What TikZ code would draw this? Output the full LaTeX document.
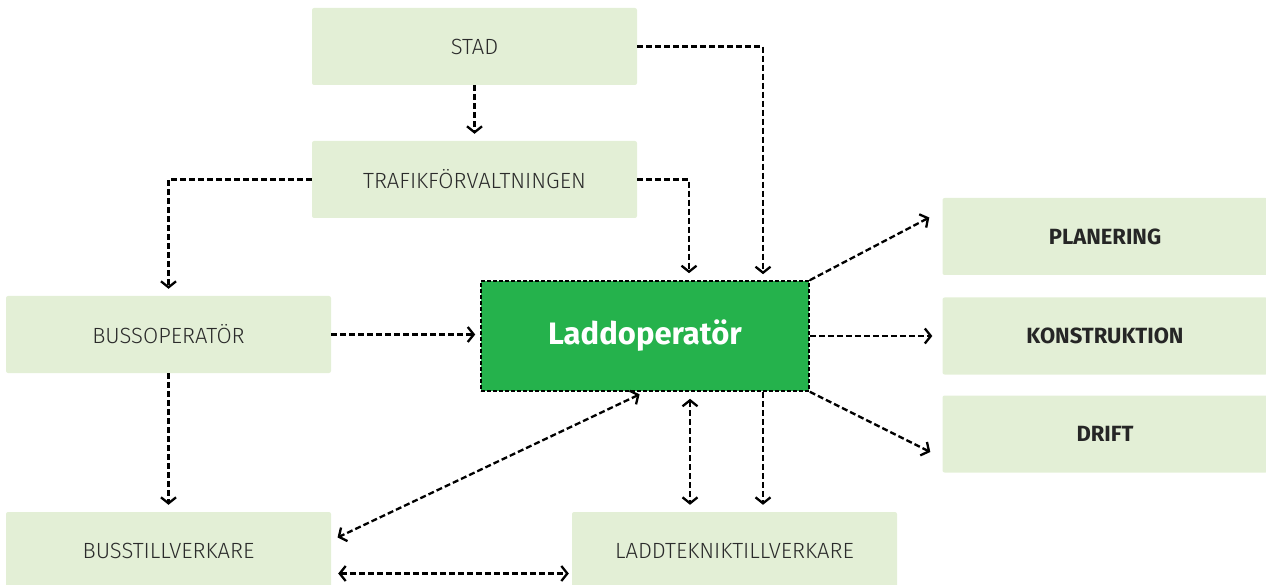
\documentclass[tikz,border=0pt]{standalone}
\usepackage{fontspec}
\setmainfont{Fira Sans}
\newfontfamily\lightfont{Fira Sans Light}
\usetikzlibrary{arrows.meta}
\definecolor{boxgreen}{HTML}{E3EFD6}
\definecolor{laddgreen}{HTML}{25B24C}
\definecolor{textgray}{HTML}{2B2B2B}
\tikzset{
  box/.style={fill=boxgreen, rounded corners=2pt, minimum width=325pt, minimum height=77pt,
    text=textgray, font=\lightfont\fontsize{22}{26}\selectfont},
  boldbox/.style={box, text=black!85, font=\fontsize{22}{26}\selectfont\bfseries},
  flow/.style={line width=2.3pt, dash pattern=on 6pt off 3pt, -{Straight Barb[length=6pt,width=15pt]}},
  twoway/.style={flow, {Straight Barb[length=6pt,width=15pt]}-{Straight Barb[length=6pt,width=15pt]}}
}
\begin{document}
\begin{tikzpicture}[x=1pt,y=1pt]
      \useasboundingbox (0,0) rectangle (1266,-585);
      % boxes
      \node[box] (stad) at (474.5,-46.5) {STAD};
      \node[box] (trafik) at (474.5,-179.5) {TRAFIKFÖRVALTNINGEN};
      \node[box] (bussop) at (168.5,-334.5) {BUSSOPERATÖR};
      \node[box] (busstill) at (168.5,-550.5) {BUSSTILLVERKARE};
      \node[box] (laddtek) at (734.5,-550.5) {LADDTEKNIKTILLVERKARE};
      \node[boldbox] (plan) at (1105,-236.5) {PLANERING};
      \node[boldbox] (konstr) at (1105,-336) {KONSTRUKTION};
      \node[boldbox] (drift) at (1105,-434) {DRIFT};
      \node[fill=laddgreen, draw=black, line width=1.6pt, dash pattern=on 4pt off 2pt,
        minimum width=328pt, minimum height=110pt, text=white,
        font=\fontsize{31}{36}\selectfont\bfseries] (ladd) at (645,-336) {Laddoperatör};
      % arrows
      \draw[flow, shorten >=7pt] (stad) -- (trafik);
      \draw[flow, shorten >=6pt] (stad.east) -| ([xshift=118pt]ladd.north);
      \draw[flow, shorten >=7pt] (trafik.east) -| ([xshift=44pt]ladd.north);
      \draw[flow, shorten >=7pt] (trafik.west) -| (bussop.north);
      \draw[flow, shorten >=5pt] (bussop.east) -- (bussop.east -| ladd.west);
      \draw[flow, shorten >=7pt] (bussop) -- (busstill);
      \draw[flow] (ladd.north east) -- ([shift={(-13pt,19pt)}]plan.west);
      \draw[flow, shorten >=10pt] (ladd.east) -- (ladd.east -| konstr.west);
      \draw[flow] (ladd.south east) -- ([shift={(-12pt,-18pt)}]drift.west);
      \draw[twoway, shorten <=6pt, shorten >=7pt] (ladd.south) -- ([yshift=10pt]busstill.east);
      \draw[twoway, shorten <=7pt, shorten >=7pt] ([xshift=45pt]ladd.south) -- ([xshift=45pt]ladd.south |- laddtek.north);
      \draw[flow, shorten >=7pt] ([xshift=118pt]ladd.south) -- ([xshift=118pt]ladd.south |- laddtek.north);
      \draw[twoway, shorten <=7pt, shorten >=3pt] ([yshift=-23pt]busstill.east) -- ([yshift=-23pt]busstill.east -| laddtek.west);
    \end{tikzpicture}
\end{document}
